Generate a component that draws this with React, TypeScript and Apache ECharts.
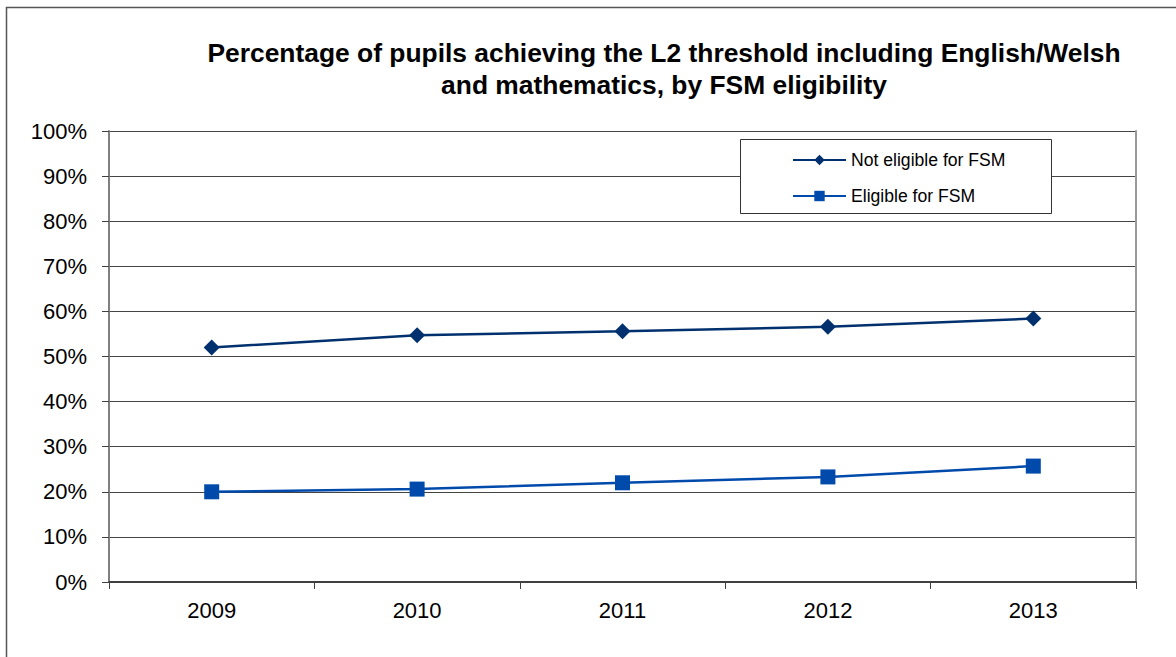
import React, { useEffect, useRef } from "react";
import * as echarts from "echarts";

const years = ["2009", "2010", "2011", "2012", "2013"];
const notEligible = [52.0, 54.7, 55.6, 56.6, 58.4];
const eligible = [20.0, 20.6, 22.0, 23.3, 25.7];
const titleLines = [
  "Percentage of pupils achieving the L2 threshold including English/Welsh",
  "and mathematics, by FSM eligibility",
];

const FONT = "'Liberation Sans', Arial, sans-serif";

export default function App() {
  const ref = useRef<HTMLDivElement>(null);
  useEffect(() => {
    if (!ref.current) return;
    const chart = echarts.init(ref.current, undefined, { renderer: "svg" });
    chart.setOption({
      animation: false,
      backgroundColor: "#ffffff",
      textStyle: { fontFamily: FONT },
      title: {
        text: titleLines.join("\n"),
        left: 659,
        textAlign: "center",
        top: 32,
        textStyle: {
          fontFamily: FONT,
          fontSize: 26.4,
          fontWeight: "bold",
          color: "#000",
          lineHeight: 32,
        },
      },
      graphic: [
        {
          type: "rect",
          shape: { x: 6.5, y: 7.5, width: 1300, height: 800 },
          style: { fill: "none", stroke: "#555", lineWidth: 1.5 },
          silent: true,
          z: -1,
        },
        {
          type: "rect",
          shape: { x: 740.5, y: 139.5, width: 311, height: 74 },
          style: { fill: "#fff", stroke: "#333", lineWidth: 1 },
          z: 10,
        },
      ],
      legend: {
        orient: "vertical",
        left: 787,
        top: 146,
        itemWidth: 53,
        itemHeight: 13,
        itemGap: 18,
        z: 20,
        textStyle: { fontFamily: FONT, fontSize: 17.6, color: "#000" },
        data: ["Not eligible for FSM", "Eligible for FSM"],
      },
      grid: { left: 109, right: 40, top: 131, bottom: 75 },
      xAxis: {
        type: "category",
        data: years,
        boundaryGap: true,
        axisLine: { lineStyle: { color: "#404040", width: 2 } },
        axisTick: { show: true, length: 7, lineStyle: { color: "#404040", width: 1 } },
        axisLabel: { fontFamily: FONT, fontSize: 22, color: "#000", margin: 17 },
        splitLine: { show: false },
      },
      yAxis: [
        {
          type: "value",
          min: 0,
          max: 100,
          interval: 10,
          axisLine: { show: true, lineStyle: { color: "#808080", width: 2 } },
          axisTick: { show: true, length: 7, lineStyle: { color: "#404040", width: 1 } },
          axisLabel: {
            fontFamily: FONT,
            fontSize: 22,
            color: "#000",
            margin: 22,
            formatter: "{value}%",
          },
          splitLine: { show: true, lineStyle: { color: "#444", width: 1 } },
        },
        {
          type: "value",
          position: "right",
          min: 0,
          max: 100,
          interval: 10,
          axisLine: { show: true, lineStyle: { color: "#999", width: 2 } },
          axisTick: { show: false },
          axisLabel: { show: false },
          splitLine: { show: false },
        },
      ],
      series: [
        {
          name: "Not eligible for FSM",
          type: "line",
          data: notEligible,
          symbol: "diamond",
          symbolSize: 16,
          itemStyle: { color: "#00316E" },
          lineStyle: { color: "#00316E", width: 2.5 },
          z: 5,
        },
        {
          name: "Eligible for FSM",
          type: "line",
          data: eligible,
          symbol: "rect",
          symbolSize: 15,
          itemStyle: { color: "#004AAB" },
          lineStyle: { color: "#004AAB", width: 2.5 },
          z: 5,
        },
      ],
    });
    return () => chart.dispose();
  }, []);
  return (
    <div
      ref={ref}
      style={{ position: "absolute", left: 0, top: 0, width: 1176, height: 657 }}
    />
  );
}
